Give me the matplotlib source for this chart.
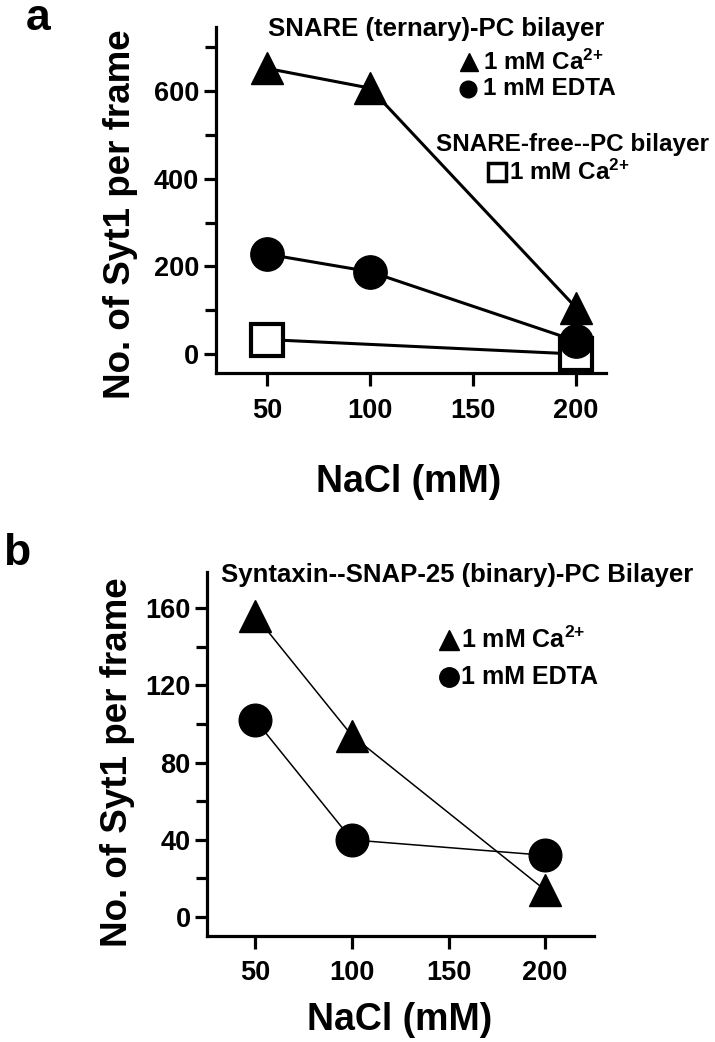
import matplotlib
matplotlib.use("Agg")
import matplotlib.pyplot as plt
from matplotlib.ticker import MultipleLocator

plt.rcParams['font.family'] = ['Liberation Sans', 'DejaVu Sans']
plt.rcParams['font.weight'] = 'bold'
plt.rcParams['mathtext.fontset'] = 'custom'
plt.rcParams['mathtext.rm'] = 'Liberation Sans:bold'
plt.rcParams['mathtext.bf'] = 'Liberation Sans:bold'
plt.rcParams['mathtext.default'] = 'rm'

# Daten Panel a
nacl_a = [50, 100, 200]
ca_a = [652, 607, 106]
edta_a = [228, 188, 30]
free_x = [50, 200]
free_ca = [33, 0]

# Daten Panel b
nacl_b = [50, 100, 200]
ca_b = [156, 94, 14]
edta_b = [102, 40, 32]

fig = plt.figure(figsize=(7.15, 10.42), dpi=100)

CA = r'1 mM Ca$^{2{+}}$'
FS = 17.5    # Legendentexte
FS_T = 18.5  # Ueberschriften


def style_axes(ax, xlim, ylim, major, minor, xpad):
    ax.set_xlim(*xlim)
    ax.set_ylim(*ylim)
    ax.spines['top'].set_visible(False)
    ax.spines['right'].set_visible(False)
    for s in ['left', 'bottom']:
        ax.spines[s].set_linewidth(2.3)
    ax.set_xticks([50, 100, 150, 200])
    ax.yaxis.set_major_locator(MultipleLocator(major))
    ax.yaxis.set_minor_locator(MultipleLocator(minor))
    ax.tick_params(axis='both', which='major', width=2.3, length=9, labelsize=19.5)
    ax.tick_params(axis='y', which='major', pad=3)
    ax.tick_params(axis='x', which='major', pad=xpad)
    ax.tick_params(axis='y', which='minor', width=2.3, length=8)
    for lab in ax.get_xticklabels() + ax.get_yticklabels():
        lab.set_fontweight('bold')


def labels(ax, xl, yl):
    ax.set_ylabel('No. of Syt1 per frame', fontsize=26.5, fontweight='bold')
    ax.set_xlabel('NaCl (mM)', fontsize=27, fontweight='bold')
    ax.xaxis.set_label_coords(*xl)
    ax.yaxis.set_label_coords(*yl)
    ax.xaxis.label.set_va('center')
    ax.yaxis.label.set_va('center')
    ax.yaxis.label.set_ha('center')


# Panel a
ax1 = fig.add_axes([0.3021, 0.6420, 0.5455, 0.3321])
style_axes(ax1, (25.2, 214.6), (-43.4, 746.6), 200, 100, 9)
ax1.plot(nacl_a, ca_a, color='black', lw=2.2, marker='^', ms=23, zorder=3)
ax1.plot(nacl_a, edta_a, color='black', lw=2.2, marker='o', ms=24, zorder=3)
ax1.plot(free_x, free_ca, color='black', lw=2.2, marker='s', ms=23,
         mfc='white', mew=3, zorder=2)
labels(ax1, (0.494, -0.315), (-0.246, 0.46))

tr = ax1.transAxes
ax1.text(0.564, 0.994, 'SNARE (ternary)-PC bilayer', transform=tr, fontsize=FS_T,
         ha='center', va='center')
ax1.plot([0.649], [0.898], transform=tr, marker='^', ms=13, color='black', clip_on=False)
ax1.text(0.685, 0.898, CA, transform=tr, fontsize=FS, va='center')
ax1.plot([0.645], [0.821], transform=tr, marker='o', ms=12, color='black', clip_on=False)
ax1.text(0.685, 0.821, '1 mM EDTA', transform=tr, fontsize=FS, va='center')
ax1.text(0.914, 0.659, 'SNARE-free--PC bilayer', transform=tr, fontsize=FS,
         ha='center', va='center')
ax1.plot([0.720], [0.581], transform=tr, marker='s', ms=12.5, mfc='white', mew=2.5,
         color='black', clip_on=False)
ax1.text(0.750, 0.581, CA, transform=tr, fontsize=FS, va='center')

# Panel b
ax2 = fig.add_axes([0.2902, 0.1017, 0.5406, 0.3493])
style_axes(ax2, (25.2, 225.3), (-9.8, 178.7), 40, 20, 8)
ax2.plot(nacl_b, ca_b, color='black', lw=1.1, marker='^', ms=23, zorder=3)
ax2.plot(nacl_b, edta_b, color='black', lw=1.1, marker='o', ms=23.5, zorder=3)
labels(ax2, (0.498, -0.231), (-0.234, 0.478))

tr2 = ax2.transAxes
ax2.text(0.036, 0.992, 'Syntaxin--SNAP-25 (binary)-PC Bilayer', transform=tr2,
         fontsize=FS_T, ha='left', va='center')
ax2.plot([0.625], [0.813], transform=tr2, marker='^', ms=14, color='black', clip_on=False)
ax2.text(0.656, 0.813, CA, transform=tr2, fontsize=FS + 0.5, va='center')
ax2.plot([0.625], [0.712], transform=tr2, marker='o', ms=14, color='black', clip_on=False)
ax2.text(0.656, 0.712, '1 mM EDTA', transform=tr2, fontsize=FS + 0.5, va='center')

# Panelbuchstaben
fig.text(0.053, 0.9712, 'a', fontsize=32, fontweight='bold', ha='center', va='baseline')
fig.text(0.024, 0.4578, 'b', fontsize=32, fontweight='bold', ha='center', va='baseline')

fig.savefig('out.png', dpi=100)
